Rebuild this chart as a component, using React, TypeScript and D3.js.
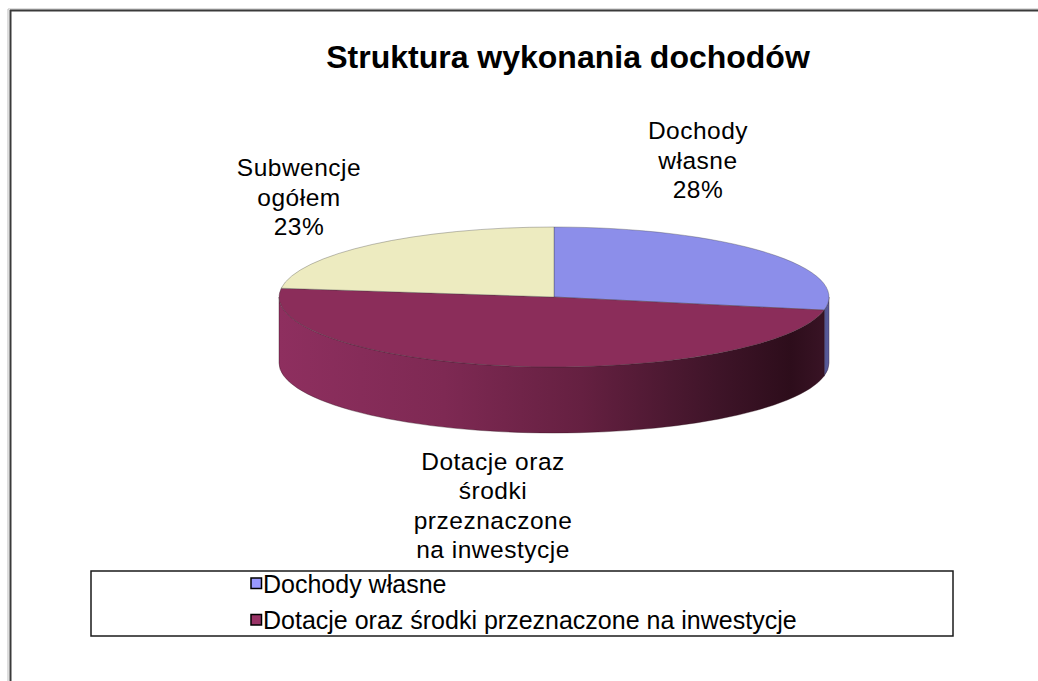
import React from "react";
import * as d3 from "d3";

const categories = ["Dochody własne", "Dotacje oraz środki przeznaczone na inwestycje", "Subwencje ogółem"];
const values = [28, 49, 23];
const labelLines = [
  ["Dochody", "własne", "28%"],
  ["Dotacje oraz", "środki", "przeznaczone", "na inwestycje"],
  ["Subwencje", "ogółem", "23%"],
];
const legendItems = [0, 1];
const title = "Struktura wykonania dochodów";

const topColors = ["#8C8EEA", "#8B2D5A", "#EDEBC0"];
const legendColors = ["#9999FF", "#993366", "#FFFFCC"];

const W = 1038;
const H = 681;
const cx = 554;
const cy = 297;
const rx = 275;
const ry = 70;
const depth = 66;

function pt(a: number, dy = 0): [number, number] {
  return [cx + rx * Math.sin(a), cy - ry * Math.cos(a) + dy];
}

export default function App() {
  const pie = d3.pie<number>().sort(null).value((d) => d);
  const arcs = pie(values);

  const sidePaths: { d: string; i: number }[] = [];
  arcs.forEach((a, i) => {
    const s = Math.max(a.startAngle, Math.PI / 2);
    const e = Math.min(a.endAngle, (3 * Math.PI) / 2);
    if (e <= s) return;
    const p0 = pt(s);
    const p1 = pt(e);
    const large = e - s > Math.PI ? 1 : 0;
    const d = `M${p0[0]},${p0[1]} A${rx},${ry} 0 ${large} 1 ${p1[0]},${p1[1]} L${p1[0]},${p1[1] + depth} A${rx},${ry} 0 ${large} 0 ${p0[0]},${p0[1] + depth} Z`;
    sidePaths.push({ d, i });
  });

  const topPaths = arcs.map((a, i) => {
    const p0 = pt(a.startAngle);
    const p1 = pt(a.endAngle);
    const large = a.endAngle - a.startAngle > Math.PI ? 1 : 0;
    return { d: `M${cx},${cy} L${p0[0]},${p0[1]} A${rx},${ry} 0 ${large} 1 ${p1[0]},${p1[1]} Z`, i };
  });

  const labelPos = [
    { x: 698, y: 139 },
    { x: 493, y: 469.5 },
    { x: 299, y: 176 },
  ];
  const lineH = 29.5;

  return (
    <svg
      width={W}
      height={H}
      style={{ position: "absolute", left: 0, top: 0, background: "#fff" }}
      fontFamily="'Liberation Sans', Arial, sans-serif"
    >
      <defs>
        <linearGradient id="side1" gradientUnits="userSpaceOnUse" x1={cx - rx} x2={cx + rx} y1={0} y2={0}>
          <stop offset="0" stopColor="#8E2F5F" />
          <stop offset="0.3" stopColor="#7E2953" />
          <stop offset="0.55" stopColor="#652041" />
          <stop offset="0.8" stopColor="#3E1428" />
          <stop offset="0.93" stopColor="#2D0D1B" />
          <stop offset="1" stopColor="#3A1426" />
        </linearGradient>
        <linearGradient id="side0" gradientUnits="userSpaceOnUse" x1={cx + rx - 12} x2={cx + rx} y1={0} y2={0}>
          <stop offset="0" stopColor="#3A3C6E" />
          <stop offset="1" stopColor="#5C5FA0" />
        </linearGradient>
        <linearGradient id="side2" gradientUnits="userSpaceOnUse" x1={cx - rx} x2={cx + rx} y1={0} y2={0}>
          <stop offset="0" stopColor="#CFCDA0" />
          <stop offset="1" stopColor="#6F6E50" />
        </linearGradient>
      </defs>

      {/* outer frame */}
      <line x1={8} y1={9} x2={W} y2={9} stroke="#bdbdbd" strokeWidth={1} />
      <line x1={8} y1={9} x2={8} y2={H} stroke="#bdbdbd" strokeWidth={1} />
      <line x1={10} y1={10.5} x2={W} y2={10.5} stroke="#3a3a3a" strokeWidth={2} />
      <line x1={10.5} y1={10} x2={10.5} y2={H} stroke="#3a3a3a" strokeWidth={2} />

      <text x={568} y={68} textAnchor="middle" fontWeight="bold" fontSize={32} fill="#000">
        {title}
      </text>

      {sidePaths.map((s) => (
        <path key={"s" + s.i} d={s.d} fill={`url(#side${s.i})`} stroke="#2a0a16" strokeWidth={0.6} strokeOpacity={0.6} />
      ))}
      {topPaths.map((t) => (
        <path key={"t" + t.i} d={t.d} fill={topColors[t.i]} stroke="#3a3a3a" strokeWidth={0.6} strokeOpacity={0.55} />
      ))}

      {labelLines.map((lines, i) => (
        <text key={"l" + i} textAnchor="middle" fontSize={24.5} letterSpacing={0.5} fill="#000">
          {lines.map((ln, j) => (
            <tspan key={j} x={labelPos[i].x} y={labelPos[i].y + j * lineH}>
              {ln}
            </tspan>
          ))}
        </text>
      ))}

      {/* legend */}
      <rect x={91} y={571} width={862} height={65} fill="#fff" stroke="#1a1a1a" strokeWidth={1.5} />
      {legendItems.map((k, j) => (
        <g key={"lg" + k} transform={`translate(251, ${578 + j * 36.5})`}>
          <rect x={0} y={0} width={10.5} height={10.5} fill={legendColors[k]} stroke="#000" strokeWidth={1.5} />
          <text x={12} y={14.5} fontSize={25} fill="#000">
            {categories[k]}
          </text>
        </g>
      ))}
    </svg>
  );
}
